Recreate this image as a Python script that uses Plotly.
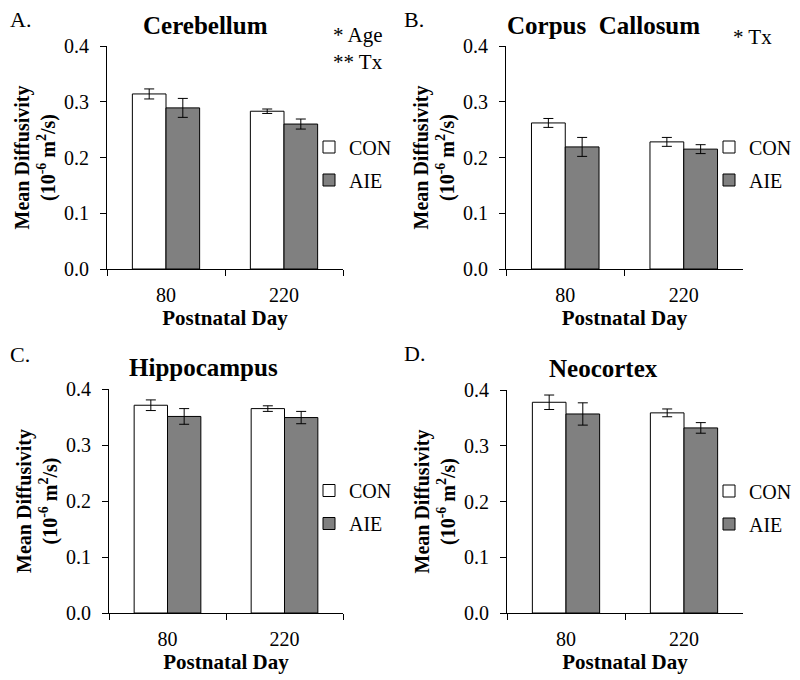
import plotly.graph_objects as go

# ---------------- data ----------------
days = ["80", "220"]
groups = ["CON", "AIE"]

cereb_con = [0.314, 0.283]
cereb_con_err = [0.009, 0.004]
cereb_aie = [0.289, 0.260]
cereb_aie_err = [0.017, 0.009]

cc_con = [0.262, 0.228]
cc_con_err = [0.008, 0.008]
cc_aie = [0.219, 0.215]
cc_aie_err = [0.017, 0.008]

hippo_con = [0.371, 0.365]
hippo_con_err = [0.0095, 0.005]
hippo_aie = [0.351, 0.349]
hippo_aie_err = [0.014, 0.011]

neo_con = [0.378, 0.359]
neo_con_err = [0.013, 0.007]
neo_aie = [0.357, 0.332]
neo_aie_err = [0.020, 0.0095]

panel_titles = ["Cerebellum", "Corpus  Callosum", "Hippocampus", "Neocortex"]
panel_letters = ["A.", "B.", "C.", "D."]
y_ticks = [0.0, 0.1, 0.2, 0.3, 0.4]

W, H = 800, 680
OFF = 8  # page body margin
FONT = "Liberation Serif, Times New Roman, serif"
GRAY = "#808080"

def px(x):
    return (x - OFF) / W

def py(y):
    return 1 - (y - OFF) / H

# panel pixel boxes (screen coords): (left, right, top, bottom)
boxes = [(107, 343, 46, 269), (506, 743, 46, 269),
         (109, 343, 389, 613), (507, 743, 390, 613)]

data = [
    (cereb_con, cereb_con_err, cereb_aie, cereb_aie_err),
    (cc_con, cc_con_err, cc_aie, cc_aie_err),
    (hippo_con, hippo_con_err, hippo_aie, hippo_aie_err),
    (neo_con, neo_con_err, neo_aie, neo_aie_err),
]

fig = go.Figure()
layout = dict(
    width=W, height=H, margin=dict(l=0, r=0, t=0, b=0, autoexpand=False),
    paper_bgcolor="white", plot_bgcolor="white",
    barmode="group", bargap=0.43, bargroupgap=0,
    font=dict(family=FONT, color="black", size=20),
    annotations=[],
)

for i, ((l, r, t, b), (con, con_e, aie, aie_e)) in enumerate(zip(boxes, data)):
    n = "" if i == 0 else str(i + 1)
    xa, ya = "x" + n, "y" + n
    lg = "legend" + n
    fig.add_trace(go.Bar(
        x=days, y=con, name=groups[0], xaxis=xa, yaxis=ya, legend=lg,
        legendgroup="con" + n,
        marker=dict(color="white", line=dict(color="black", width=1)),
        error_y=dict(type="data", array=con_e, color="black", thickness=1, width=5),
    ))
    fig.add_trace(go.Bar(
        x=days, y=aie, name=groups[1], xaxis=xa, yaxis=ya, legend=lg,
        legendgroup="aie" + n,
        marker=dict(color=GRAY, line=dict(color="black", width=1)),
        error_y=dict(type="data", array=aie_e, color="black", thickness=1, width=5),
    ))
    layout["xaxis" + n] = dict(
        domain=[px(l), px(r)], anchor=ya, type="category", automargin=False,
        showline=True, linecolor="black", linewidth=1,
        ticks="outside", tickson="boundaries", ticklen=6, tickcolor="black",
        ticklabelstandoff=8,
        showgrid=False, zeroline=False,
        tickfont=dict(size=20, family=FONT),
        title=dict(text="<b>Postnatal Day</b>", font=dict(size=21, family=FONT), standoff=0),
    )
    layout["yaxis" + n] = dict(
        domain=[py(b), py(t)], anchor=xa, range=[0, 0.4], automargin=False,
        tickvals=y_ticks, tickformat=".1f",
        showline=True, linecolor="black", linewidth=1,
        ticks="outside", ticklen=6, tickcolor="black",
        ticklabelstandoff=7,
        showgrid=False, zeroline=False,
        tickfont=dict(size=20, family=FONT),
        title=dict(text="<b>Mean Diffusivity</b><br><b>(10<sup>-6</sup> m<sup>2</sup>/s)</b>",
                   font=dict(size=20, family=FONT), standoff=3),
    )
    layout[lg] = dict(
        x=px(r - 34), y=py((t + b) / 2 - 30), xanchor="left", yanchor="top",
        bgcolor="rgba(0,0,0,0)", font=dict(size=20, family=FONT),
        tracegroupgap=4, itemclick=False,
    )
    # panel title and letter
    tx = [205, 603, 203, 603][i]
    ty = [25, 25, 367, 368][i]
    layout["annotations"].append(dict(
        text="<b>" + panel_titles[i] + "</b>", x=px(tx), y=py(ty),
        xref="paper", yref="paper", showarrow=False, xanchor="center", yanchor="middle",
        font=dict(size=25, family=FONT)))
    lx = [8, 402, 8, 402][i]
    ly = [19, 19, 354, 353][i]
    layout["annotations"].append(dict(
        text=panel_letters[i], x=px(lx), y=py(ly),
        xref="paper", yref="paper", showarrow=False, xanchor="left", yanchor="middle",
        font=dict(size=22, family=FONT)))

# significance notes
layout["annotations"].append(dict(text="* Age", x=px(331), y=py(35), xref="paper", yref="paper",
                                  showarrow=False, xanchor="left", yanchor="middle",
                                  font=dict(size=21, family=FONT)))
layout["annotations"].append(dict(text="** Tx", x=px(331), y=py(62), xref="paper", yref="paper",
                                  showarrow=False, xanchor="left", yanchor="middle",
                                  font=dict(size=21, family=FONT)))
layout["annotations"].append(dict(text="* Tx", x=px(731), y=py(37), xref="paper", yref="paper",
                                  showarrow=False, xanchor="left", yanchor="middle",
                                  font=dict(size=21, family=FONT)))

fig.update_layout(**layout)
fig.write_html("out.html")
